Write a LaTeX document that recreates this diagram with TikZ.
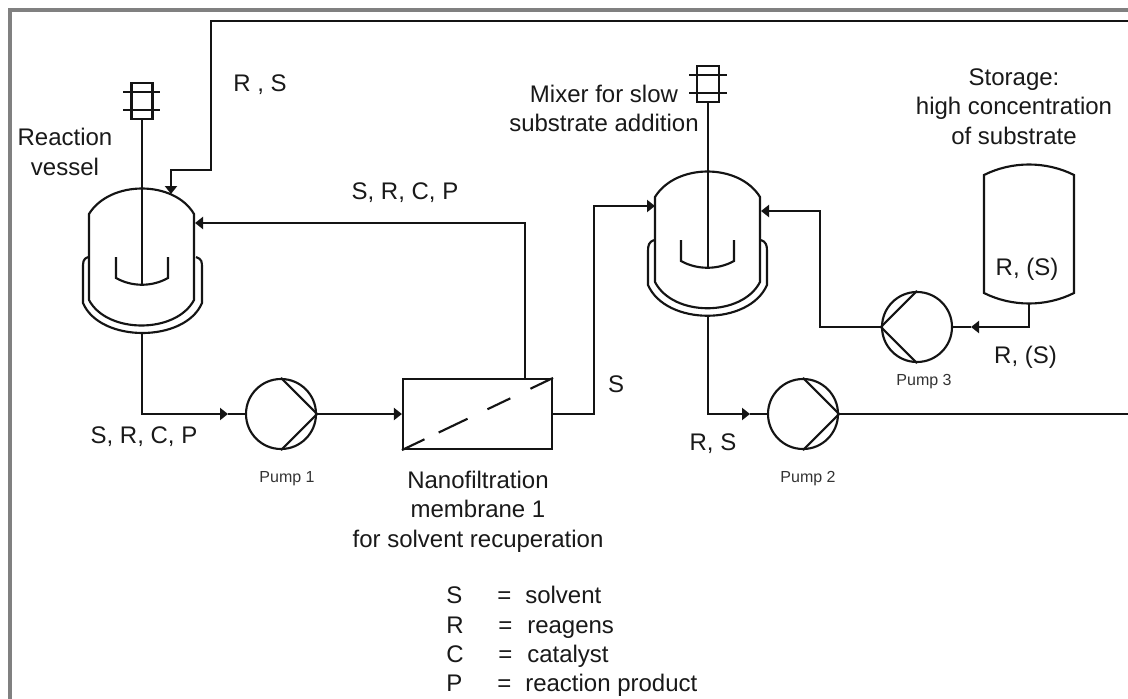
\documentclass[tikz,border=0pt]{standalone}
\usepackage{fontspec}
\setmainfont{Liberation Sans}
\usetikzlibrary{arrows.meta,calc}
\tikzset{
  x=0.75pt,y=-0.75pt,
  line/.style={draw=black!92,line width=1.6pt,line join=miter},
  flow/.style={line,-{Triangle[length=6pt,width=9pt]}},
  pumpc/.style={circle,draw=black!92,line width=1.6pt,minimum size=52.5pt,inner sep=0pt},
  lbl/.style={font=\fontsize{18}{22}\selectfont,text=black!90,align=center,inner sep=0pt,anchor=base},
  small/.style={font=\fontsize{12}{14}\selectfont,text=black!80,inner sep=0pt,anchor=base},
  key/.style={font=\fontsize{18}{21}\selectfont,text=black!90,anchor=base west,inner sep=0pt},
  membrane/.style={draw=black!92,line width=1.6pt,minimum width=111.75pt,minimum height=52.5pt,inner sep=0pt},
  frameline/.style={draw=black!50,line width=3pt}
}
\begin{document}
\begin{tikzpicture}
\useasboundingbox (0,0) rectangle (1128,699);
\fill[white] (0,0) rectangle (1128,699);
\draw[frameline] (10,699) -- (10,10) -- (1128,10);

\coordinate (e) at (1128,21);
\coordinate (ev2) at (1128,414);

% vessel 1
\draw[line] (89,300) -- (89,214) .. controls (110,180) and (174,180) .. (194,214) -- (194,300) .. controls (176,334) and (107,334) .. (89,300);
\draw[line] (88,257) .. controls (83,259) and (83,262) .. (83,268) -- (83,303) .. controls (100,343) and (185,343) .. (202,303) -- (202,268) .. controls (202,262) and (202,259) .. (196,257);
% stirrer 1
\node[line,minimum width=15.75pt,minimum height=27pt,inner sep=0pt] (m1) at (142,101) {};
\draw[line] (123,92) -- (160,92) (123,110) -- (160,110);
\coordinate (s1) at (142,285);
\draw[line] (m1.south) -- (s1);
\draw[line] (116,257) -- (116,278) .. controls (132,287) and (152,287) .. (168,278) -- (168,257);

% vessel 2
\draw[line] (655,282) -- (655,197) .. controls (676,163) and (739,163) .. (760,197) -- (760,282) .. controls (742,317) and (673,317) .. (655,282);
\draw[line] (654,240) .. controls (649,242) and (648,245) .. (648,251) -- (648,285) .. controls (666,326) and (749,326) .. (767,285) -- (767,251) .. controls (767,245) and (766,242) .. (761,240);
\node[line,minimum width=16.5pt,minimum height=27pt,inner sep=0pt] (m2) at (708,84) {};
\draw[line] (689,75) -- (727,75) (689,93) -- (727,93);
\coordinate (s2) at (708,268);
\draw[line] (m2.south) -- (s2);
\draw[line] (681,240) -- (681,261) .. controls (697,270) and (718,270) .. (734,261) -- (734,240);

% storage tank
\draw[line] (984,175) .. controls (1012,161) and (1046,161) .. (1074,175) -- (1074,293) .. controls (1046,307) and (1012,307) .. (984,293) -- cycle;

% pumps
\node[pumpc] (p1) at (281,414) {};
\node[pumpc] (p2) at (803,414) {};
\node[pumpc] (p3) at (917,327) {};
\draw[line] (p1.north) -- (p1.east) -- (p1.south);
\draw[line] (p2.north) -- (p2.east) -- (p2.south);
\draw[line] (p3.north) -- (p3.west) -- (p3.south);

% membrane
\node[membrane] (mem) at (477.5,414) {};
\foreach \fa/\fb in {0/0.149,0.243/0.434,0.566/0.717,0.85/1}{
  \draw[line] ($(mem.south west)!\fa!(mem.north east)$) -- ($(mem.south west)!\fb!(mem.north east)$);
}

% piping
\coordinate (v1bot) at (142,334);
\coordinate (v1in) at (171,194);
\coordinate (v1r) at (195,223);
\coordinate (memtap) at (525,379);
\coordinate (mk1) at (228,414);
\draw[flow] (v1bot) |- (mk1);
\draw[line] (mk1) -- (p1.west);
\draw[flow] (p1.east) -- (mem.west);
\draw[flow] (memtap) |- (v1r);
\draw[flow] (e) -| (211,170) -| (v1in);
\coordinate (v2l) at (655,206);
\draw[flow] (mem.east) -| (594,206) -- (v2l);

\coordinate (v2bot) at (708,317);
\coordinate (mk2) at (750,414);
\draw[flow] (v2bot) |- (mk2);
\draw[line] (mk2) -- (p2.west);
\draw[line] (p2.east) -- (ev2);

\coordinate (tankbot) at (1029,304);
\coordinate (mk3) at (971,327);
\coordinate (v2r) at (761,211);
\draw[flow] (tankbot) |- (mk3);
\draw[line] (mk3) -- (p3.east);
\draw[flow] (p3.west) -| (820,211) -- (v2r);

% labels (y = baseline of the last line)
\node[lbl] (t1) at (65,175) {Reaction\\vessel};
\node[lbl] (t2) at (260,92) {R , S};
\node[lbl] (t3) at (405,199) {S, R, C, P};
\node[lbl] (t4) at (144,443) {S, R, C, P};
\node[small] (t5) at (287,482) {Pump 1};
\node[small] (t6) at (808,482) {Pump 2};
\node[small] (t7) at (924,385) {Pump 3};
\node[lbl] (t8) at (478,547) {Nanofiltration\\membrane 1\\for solvent recuperation};
\node[lbl] (t9) at (616,392) {S};
\node[lbl] (t10) at (713,450) {R, S};
\node[lbl] (t11) at (1014,144) {Storage:\\high concentration\\of substrate};
\node[lbl] (t12) at (1027,275) {R, (S)};
\node[lbl] (t13) at (1025.5,363) {R, (S)};
\node[lbl] (t14) at (604,132) {Mixer for slow\\substrate addition};

\foreach \n/\yy/\a/\b/\xa/\xb in {a/603/S/solvent/497/525,b/633/R/reagens/498/527,c/662/C/catalyst/498/527,d/691/P/reaction product/497/525}{
  \node[key] (k\n) at (446,\yy) {\a};
  \node[key] (q\n) at (\xa,\yy) {=};
  \node[key] (r\n) at (\xb,\yy) {\b};
}
\end{tikzpicture}
\end{document}
